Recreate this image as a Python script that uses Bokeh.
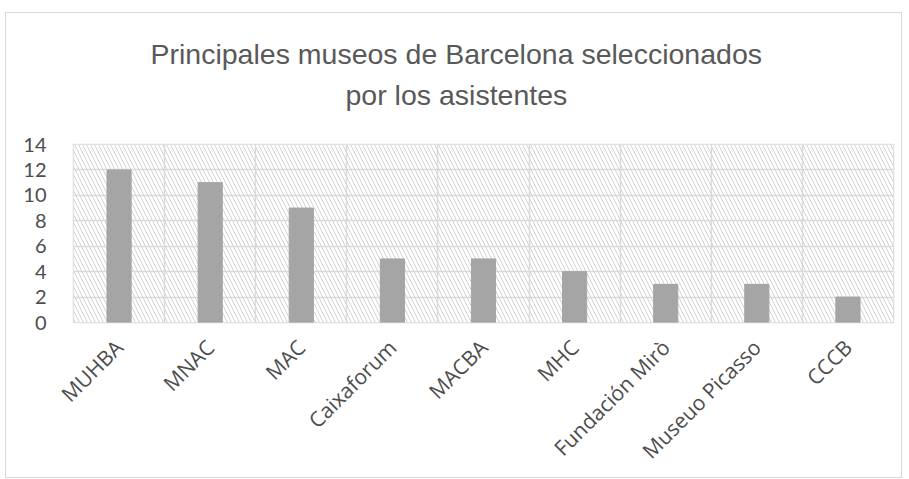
import numpy as np
from bokeh.plotting import figure
from bokeh.models import (ColumnDataSource, FixedTicker, Range1d, BoxAnnotation, Title)
from bokeh.embed import file_html
from bokeh.resources import INLINE

categories = ["MUHBA", "MNAC", "MAC", "Caixaforum", "MACBA", "MHC",
              "Fundación Mirò", "Museuo Picasso", "CCCB"]
values = [12, 11, 9, 5, 5, 4, 3, 3, 2]
y_ticks = [0, 2, 4, 6, 8, 10, 12, 14]
title_lines = ["Principales museos de Barcelona seleccionados", "por los asistentes"]

n = len(categories)
xc = np.arange(n) + 0.5
src = ColumnDataSource(dict(x=xc, top=values, cat=categories))

p = figure(frame_width=820, frame_height=178, output_backend="svg", toolbar_location=None,
           x_range=Range1d(0, n), y_range=Range1d(0, 14),
           min_border_left=67, min_border_right=8, min_border_top=131, min_border_bottom=140)
p.styles = {"border": "1px solid #d9d9d9", "margin-top": "12px", "margin-left": "5px"}

# (standoff, offset) for line 2 (inner) then line 1 (outer)
placements = [(68, 272), (-54, 77)]
for t, (so, off) in zip(reversed(title_lines), placements):
    ti = Title(text=t, align="left", text_font="Liberation Sans",
               text_font_size="28.5px", text_font_style="normal", text_color="#595959",
               standoff=so, offset=off)
    p.add_layout(ti, "above")

# hatched background
bg = BoxAnnotation(fill_color="white", fill_alpha=1.0, line_alpha=0,
                   hatch_pattern="\\", hatch_color="#d2d2d2", hatch_scale=8,
                   hatch_weight=1, level="image")
p.add_layout(bg)

p.vbar(x="x", top="top", width=0.265, bottom=0, source=src,
       fill_color="#a5a5a5", line_color="#a5a5a5")

p.xaxis.ticker = FixedTicker(ticks=list(xc))
p.xaxis.major_label_overrides = {float(x): c for x, c in zip(xc, categories)}
p.xaxis.major_label_orientation = np.pi / 4
p.xaxis.major_label_text_font = "Open Sans"
p.xaxis.major_label_text_font_size = "21px"
p.xaxis.major_label_text_color = "#4d4d4d"
p.xaxis.major_label_standoff = 15

p.yaxis.ticker = FixedTicker(ticks=y_ticks)
p.yaxis.major_label_text_font = "Lato"
p.yaxis.major_label_text_font_size = "20px"
p.yaxis.major_label_text_color = "#4d4d4d"
p.yaxis.major_label_standoff = 21

for ax in (p.xaxis, p.yaxis):
    ax.axis_line_color = None
    ax.major_tick_line_color = None
    ax.minor_tick_line_color = None

p.xgrid.ticker = FixedTicker(ticks=list(range(n + 1)))
p.ygrid.ticker = FixedTicker(ticks=y_ticks)
for g in (p.xgrid, p.ygrid):
    g.grid_line_color = "#d9d9d9"
    g.grid_line_width = 1.5

p.outline_line_color = "#d9d9d9"
p.outline_line_width = 1.5
p.background_fill_color = "white"

open("out.html", "w").write(file_html(p, INLINE))
